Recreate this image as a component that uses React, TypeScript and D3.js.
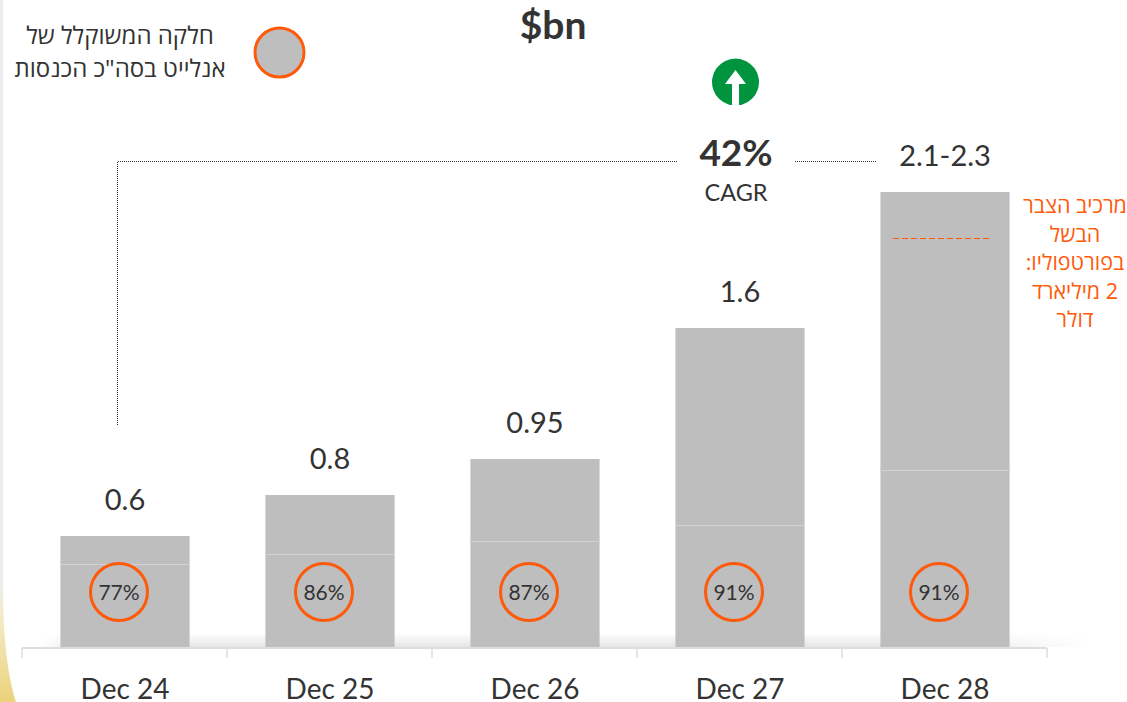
import React from "react";
import * as d3 from "d3";

const categories = ["Dec 24", "Dec 25", "Dec 26", "Dec 27", "Dec 28"];
const totalLabels = ["0.6", "0.8", "0.95", "1.6", "2.1-2.3"];
const barTotals = [0.555, 0.76, 0.94, 1.595, 2.275];
const lowerParts = [0.415, 0.465, 0.53, 0.61, 0.885];
const shares = ["77%", "86%", "87%", "91%", "91%"];
const portfolioValue = 2.045;
const legendLines = ["חלקה המשוקלל של", 'אנלייט בסה"כ הכנסות'];
const noteLines = ["מרכיב הצבר", "הבשל", "בפורטפוליו:", "2 מיליארד", "דולר"];

const FONT = "Lato, 'Open Sans', 'Noto Sans', sans-serif";
const HEB = "'Open Sans', 'Noto Sans', 'DejaVu Sans', sans-serif";
const TXT = "#333333";
const ORANGE = "#FF5A0A";
const GREY = "#BEBEBE";

export default function App() {
  const x = d3.scaleBand<string>().domain(categories).range([22.5, 1047.5]).paddingInner(0.37).paddingOuter(0.185);
  const y = d3.scaleLinear().domain([0, 1]).range([647, 447]);
  const step = x.step();
  const cx = (c: string) => x(c)! + x.bandwidth() / 2;
  return (
    <svg width={1127} height={702} style={{ position: "absolute", left: 0, top: 0, display: "block", background: "#fff" }}>
      <defs>
        <linearGradient id="shadow" x1="0" y1="0" x2="0" y2="1">
          <stop offset="0" stopColor="#000" stopOpacity="0" />
          <stop offset="1" stopColor="#000" stopOpacity="0.1" />
        </linearGradient>
        <linearGradient id="fadeH" x1="0" y1="0" x2="1" y2="0">
          <stop offset="0" stopColor="#fff" stopOpacity="1" />
          <stop offset="0.04" stopColor="#fff" stopOpacity="0" />
          <stop offset="0.86" stopColor="#fff" stopOpacity="0" />
          <stop offset="1" stopColor="#fff" stopOpacity="1" />
        </linearGradient>
        <linearGradient id="gold" x1="0" y1="0" x2="0" y2="1">
          <stop offset="0" stopColor="#EDEDED" />
          <stop offset="0.35" stopColor="#F3EAC4" />
          <stop offset="1" stopColor="#EBD27A" />
        </linearGradient>
      </defs>
      <rect x={0} y={0} width={3} height={580} fill="#EDEDED" />
      <path d="M0,580 L3,580 C3,630 6,670 16,702 L0,702 Z" fill="url(#gold)" />
      <rect x={40} y={633} width={1050} height={14} fill="url(#shadow)" />
      <rect x={40} y={633} width={1050} height={14} fill="url(#fadeH)" />

      {categories.map((c, i) => (
        <g key={c}>
          <rect x={x(c)} y={y(barTotals[i])} width={x.bandwidth()} height={y(0) - y(barTotals[i])} fill={GREY} />
          <line x1={x(c)} x2={x(c)! + x.bandwidth()} y1={y(lowerParts[i])} y2={y(lowerParts[i])} stroke="#D2D2D2" strokeWidth={1} shapeRendering="crispEdges" />
          <text x={cx(c)} y={y(barTotals[i]) - 26} textAnchor="middle" fontFamily={FONT} fontSize={29} fill={TXT}>{totalLabels[i]}</text>
          <circle cx={cx(c) - 6} cy={592} r={28.5} fill="none" stroke={ORANGE} strokeWidth={3} />
          <text x={cx(c) - 6} y={599.5} textAnchor="middle" fontFamily={FONT} fontSize={21} fill={TXT}>{shares[i]}</text>
          <text x={x(c)! + x.bandwidth() / 2} y={699} textAnchor="middle" fontFamily={FONT} fontSize={28} fill={TXT}>{c}</text>
        </g>
      ))}

      <line x1={22} x2={1047} y1={648} y2={648} stroke="#DEDEDE" strokeWidth={2} />
      {d3.range(categories.length + 1).map((i) => (
        <line key={i} x1={22 + i * step} x2={22 + i * step} y1={648} y2={658} stroke="#DEDEDE" strokeWidth={1.5} />
      ))}

      <line x1={893} x2={989} y1={y(portfolioValue)} y2={y(portfolioValue)} stroke={ORANGE} strokeWidth={1} strokeDasharray="6 3" shapeRendering="crispEdges" />

      <path d="M117.5,425 V161.5 H678" fill="none" stroke="#333" strokeWidth={1} strokeDasharray="1 1" />
      <line x1={795} x2={876} y1={161.5} y2={161.5} stroke="#333" strokeWidth={1} strokeDasharray="1 1" />

      <text x={553} y={39} textAnchor="middle" fontFamily={FONT} fontWeight={700} fontSize={39} fill={TXT}>$bn</text>
      <text x={736} y={166} textAnchor="middle" fontFamily={FONT} fontWeight={700} fontSize={37} fill={TXT}>42%</text>
      <text x={736} y={201} textAnchor="middle" fontFamily={FONT} fontSize={23.5} fill={TXT}>CAGR</text>

      <path d="M728.5,104.5 A23.5,23.5 0 1 1 742.5,104.5 Q741,105 739,105 L739,84 L746,84 L735.5,70 L725,84 L732,84 L732,105 Q730,105 728.5,104.5 Z" fill="#00943F" />

      <circle cx={279.5} cy={52.5} r={24.5} fill={GREY} stroke={ORANGE} strokeWidth={3} />
      {legendLines.map((l, i) => (
        <text key={i} x={120} y={44 + i * 33} direction="rtl" textAnchor="middle" fontFamily={HEB} fontSize={24} fill={TXT}>{l}</text>
      ))}
      {noteLines.map((l, i) => (
        <text key={i} x={1075} y={213 + i * 28.5} direction="rtl" textAnchor="middle" fontFamily={HEB} fontSize={21.5} fill={ORANGE}>{l}</text>
      ))}
    </svg>
  );
}
